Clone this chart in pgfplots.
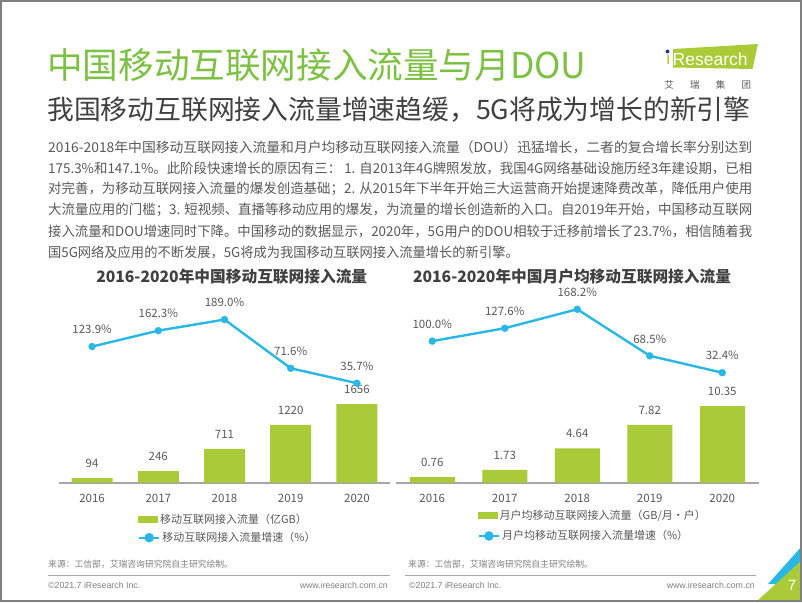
\documentclass[border=0pt]{standalone}
\usepackage{fontspec}
\usepackage{graphicx}
\usepackage{pgfplots}
\usepackage{pgfplotstable}
\pgfplotsset{compat=1.18}
\setmainfont{Noto Sans CJK SC}
\newfontfamily\arial{Liberation Sans}

\definecolor{titlegreen}{HTML}{7CC142}
\definecolor{bargreen}{HTML}{A9CB37}
\definecolor{linecyan}{HTML}{29B7E8}
\definecolor{txt}{HTML}{595959}
\definecolor{dark}{HTML}{404040}
\definecolor{axgray}{HTML}{A6A6A6}
\definecolor{framegray}{HTML}{808080}
\definecolor{logoblue}{HTML}{1F3F8F}

% left chart: traffic (100 million GB) and growth (%)
\pgfplotstableread{
x v lab
0 94 94
1 246 246
2 711 711
3 1220 1220
4 1656 1656
}\leftbars
\pgfplotstableread{
x r lab
0 123.9 123.9
1 162.3 162.3
2 189.0 189.0
3 71.6 71.6
4 35.7 35.7
}\leftrate
% right chart: DOU (GB per user per month) and growth (%)
\pgfplotstableread{
x v lab
0 0.76 0.76
1 1.73 1.73
2 4.64 4.64
3 7.82 7.82
4 10.35 10.35
}\rightbars
\pgfplotstableread{
x r lab
0 100.0 100.0
1 127.6 127.6
2 168.2 168.2
3 68.5 68.5
4 32.4 32.4
}\rightrate

\newcommand{\chartfont}{\fontsize{11.5}{13}\selectfont}
\newcommand{\jline}[1]{\resizebox{704pt}{\height}{#1}}
\pgfplotsset{
  basechart/.style={
    scale only axis, height=200pt,
    xmin=-0.5, xmax=4.5, clip=false,
    legend cell align=left,
    legend style={draw=none, fill=none, inner sep=0pt, outer sep=0pt,
      font=\fontsize{11}{12}\selectfont, text=txt, anchor=west},
  },
  barchart/.style={basechart, ymin=0,
    axis x line*=bottom, hide y axis,
    x axis line style={draw=axgray, line width=1.6pt},
    xtick={0,1,2,3,4}, xticklabels={2016,2017,2018,2019,2020},
    major tick length=0pt,
    xticklabel style={font=\chartfont, text=txt, anchor=center, yshift=-16pt},
    point meta=explicit symbolic,
    nodes near coords={\pgfplotspointmeta},
    every node near coord/.append style={font=\chartfont, text=txt, anchor=center, yshift=14.5pt},
  },
  ratechart/.style={basechart, hide axis,
    point meta=explicit symbolic,
    nodes near coords={\pgfplotspointmeta\%},
    every node near coord/.append style={font=\chartfont, text=txt, anchor=center, yshift=17pt},
  },
  barlegend/.style={legend image code/.code={\fill[bargreen] (0pt,-3.5pt) rectangle (20pt,3.5pt);}},
  linelegend/.style={legend image code/.code={%
    \draw[linecyan, line width=2.4pt] (0pt,0pt) -- (20pt,0pt);
    \fill[linecyan] (10pt,0pt) circle (3.5pt);}},
  rateline/.style={linecyan, line width=2.4pt, mark=*, mark size=3.5pt,
    mark options={solid, fill=linecyan, draw=linecyan, line width=0.3pt}},
}

\begin{document}
\begin{tikzpicture}[x=1pt, y=1pt]
\path[use as bounding box] (0,0) rectangle (802,-602);
\fill[white] (0,0) rectangle (802,-602);

% title and subtitle
\node[anchor=west, inner sep=0pt, text=titlegreen, font=\fontsize{35.6}{40}\selectfont] at (47,-65) {中国移动互联网接入流量与月DOU};
\node[anchor=west, inner sep=0pt, text=dark, font=\fontsize{26.8}{30}\selectfont] at (47,-110) {我国移动互联网接入流量增速趋缓，5G将成为增长的新引擎};

% logo
\fill[bargreen] (673,-49) -- (758,-44) -- (752.5,-69) -- (673,-67.5) -- cycle;
\node[anchor=west, inner sep=0pt, text=white, font=\arial\fontsize{17.5}{18}\selectfont] at (672.5,-59.5) {Research};
\node[anchor=east, inner sep=0pt, text=bargreen, font=\arial\fontsize{17.5}{18}\selectfont] at (671,-59.5) {ı};
\fill[logoblue] (667.5,-51.5) circle (2);
\foreach \c [count=\i from 0] in {艾,瑞,集,团}
  \node[inner sep=0pt, text=txt, font=\fontsize{9.5}{10}\selectfont] at (669+25.8*\i,-85) {\c};

% paragraph
\begin{scope}[every node/.style={anchor=west, inner sep=0pt, text=txt, font=\fontsize{13.6}{16}\selectfont}]
\node at (48,-147) {\jline{2016-2018年中国移动互联网接入流量和月户均移动互联网接入流量（DOU）迅猛增长，二者的复合增长率分别达到}};
\node at (48,-168) {\jline{175.3\%和147.1\%。此阶段快速增长的原因有三： 1. 自2013年4G牌照发放，我国4G网络基础设施历经3年建设期，已相}};
\node at (48,-189) {\jline{对完善，为移动互联网接入流量的爆发创造基础；2. 从2015年下半年开始三大运营商开始提速降费改革，降低用户使用}};
\node at (48,-210) {\jline{大流量应用的门槛；3. 短视频、直播等移动应用的爆发，为流量的增长创造新的入口。自2019年开始，中国移动互联网}};
\node at (48,-231) {\jline{接入流量和DOU增速同时下降。中国移动的数据显示，2020年，5G用户的DOU相较于迁移前增长了23.7\%，相信随着我}};
\node at (48,-252) {\resizebox{0.975\width}{\height}{国5G网络及应用的不断发展，5G将成为我国移动互联网接入流量增长的新引擎。}};
\end{scope}

% chart titles
\node[inner sep=0pt, text=dark, font=\fontsize{15.7}{18}\selectfont\bfseries] at (231.7,-277) {2016-2020年中国移动互联网接入流量};
\node[inner sep=0pt, text=dark, font=\fontsize{15.7}{18}\selectfont\bfseries] at (572,-277) {2016-2020年中国月户均移动互联网接入流量};

% left chart
\begin{axis}[barchart, at={(59pt,-482.7pt)}, anchor=south west, width=331pt,
    ymax=4210, legend style={at={(0.2387,-0.183)}}]
  \addplot[ybar, bar width=41pt, fill=bargreen, draw=none, barlegend]
    table[x=x, y=v, meta=lab] {\leftbars};
  \addlegendentry{移动互联网接入流量（亿GB）}
\end{axis}
\begin{axis}[ratechart, at={(59pt,-482.7pt)}, anchor=south west, width=331pt,
    ymin=-204.1, ymax=277.8, legend style={at={(0.2387,-0.275)}}]
  \addplot[rateline, linelegend] table[x=x, y=r, meta=lab] {\leftrate};
  \addlegendentry{移动互联网接入流量增速（\%）}
\end{axis}

% right chart
\begin{axis}[barchart, at={(396pt,-482.7pt)}, anchor=south west, width=362.5pt,
    ymax=26.99, legend style={at={(0.2254,-0.165)}}]
  \addplot[ybar, bar width=45pt, fill=bargreen, draw=none, barlegend]
    table[x=x, y=v, meta=lab] {\rightbars};
  \addlegendentry{月户均移动互联网接入流量（GB/月·户）}
\end{axis}
\begin{axis}[ratechart, at={(396pt,-482.7pt)}, anchor=south west, width=362.5pt,
    ymin=-203.2, ymax=225.05, legend style={at={(0.2254,-0.2665)}}]
  \addplot[rateline, linelegend] table[x=x, y=r, meta=lab] {\rightrate};
  \addlegendentry{月户均移动互联网接入流量增速（\%）}
\end{axis}

% sources and footer
\begin{scope}[every node/.style={inner sep=0pt, text=framegray}]
\node[anchor=west, font=\fontsize{8.8}{10}\selectfont] at (48,-564) {来源：工信部，艾瑞咨询研究院自主研究绘制。};
\node[anchor=west, font=\fontsize{8.8}{10}\selectfont] at (408,-564) {来源：工信部，艾瑞咨询研究院自主研究绘制。};
\node[anchor=west, font=\arial\fontsize{8.8}{10}\selectfont] at (48,-585) {©2021.7 iResearch Inc.};
\node[anchor=east, font=\arial\fontsize{8.8}{10}\selectfont] at (388,-585) {www.iresearch.com.cn};
\node[anchor=west, font=\arial\fontsize{8.8}{10}\selectfont] at (409,-585) {©2021.7 iResearch Inc.};
\node[anchor=east, font=\arial\fontsize{8.8}{10}\selectfont] at (755,-585) {www.iresearch.com.cn};
\end{scope}
\draw[axgray, line width=0.9pt] (48,-575) -- (390,-575);
\draw[axgray, line width=0.9pt] (405,-575) -- (756,-575);

% page corner
\fill[linecyan] (768,-584) -- (802,-546) -- (802,-584) -- cycle;
\fill[bargreen] (756,-602) -- (802,-560) -- (802,-602) -- cycle;
\node[inner sep=0pt, text=white, font=\arial\fontsize{15}{16}\selectfont] at (792,-585) {7};

% frame
\draw[framegray, line width=2pt] (1,-1) rectangle (801,-601);
\end{tikzpicture}
\end{document}
